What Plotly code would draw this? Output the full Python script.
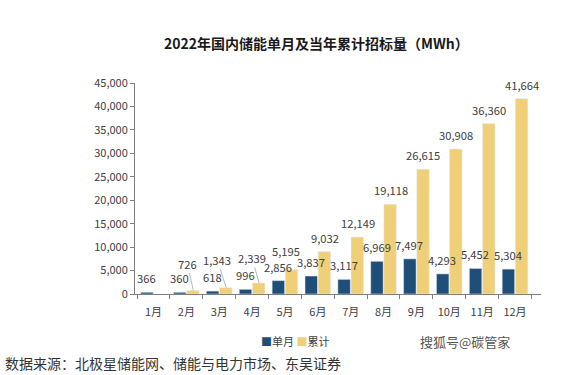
import plotly.graph_objects as go

months = ["1月", "2月", "3月", "4月", "5月", "6月", "7月", "8月", "9月", "10月", "11月", "12月"]
monthly = [366, 360, 618, 996, 2856, 3837, 3117, 6969, 7497, 4293, 5452, 5304]
cumulative = [None, 726, 1343, 2339, 5195, 9032, 12149, 19118, 26615, 30908, 36360, 41664]

BLUE = "#1f4e79"
YELLOW = "#f0cf79"
TXT = "#404040"
FONT = "Noto Sans CJK SC, Noto Sans, sans-serif"

W, H = 570, 375
L, R, T, B = 135, 29, 83, 81
pw, ph = W - L - R, H - T - B


def px_to_paper(px, py):
    return (px - L) / pw, 1 - (py - T) / ph


fig = go.Figure()
fig.add_trace(go.Bar(x=months, y=monthly, name="单月", marker_color=BLUE, showlegend=False))
fig.add_trace(go.Bar(x=months, y=cumulative, name="累计", marker_color=YELLOW, showlegend=False))

# label offsets (pixels) for labels drawn with leader lines / shifted
leader = {1: (-6, -27), 2: (-9, -28), 3: (-7, -25)}
shifted = {4: (-6, 19)}
lab_font = dict(size=11.2, color=TXT, family=FONT)

ann = []
for i, m in enumerate(months):
    ann.append(dict(x=m, y=monthly[i], xref="x", yref="y", text=f"{monthly[i]:,}",
                    showarrow=False, xshift=-7, yshift=4, xanchor="center", yanchor="bottom",
                    font=lab_font))
    v = cumulative[i]
    if v is None:
        continue
    if i in leader:
        ax, ay = leader[i]
        ann.append(dict(x=m, y=v, xref="x", yref="y", text=f"{v:,}", showarrow=True,
                        arrowhead=0, arrowwidth=0.8, arrowcolor="#a6a6a6", standoff=0,
                        ax=ax, ay=ay, xshift=7, font=lab_font))
    elif i in shifted:
        dx, dy = shifted[i]
        ann.append(dict(x=m, y=v, xref="x", yref="y", text=f"{v:,}", showarrow=False,
                        xshift=7 + dx, yshift=dy, xanchor="center", yanchor="middle",
                        font=lab_font))
    else:
        ann.append(dict(x=m, y=v, xref="x", yref="y", text=f"{v:,}",
                        showarrow=False, xshift=7, yshift=4, xanchor="center", yanchor="bottom",
                        font=lab_font))

tx, ty = px_to_paper(316, 43)
ann.append(dict(x=tx, y=ty, xref="paper", yref="paper", showarrow=False,
                xanchor="center", yanchor="middle",
                text="<b>2022年国内储能单月及当年累计招标量（MWh）</b>",
                font=dict(size=14, color="#1a1a1a", family=FONT)))
sx, sy = px_to_paper(3, 363)
ann.append(dict(x=sx, y=sy, xref="paper", yref="paper", showarrow=False,
                xanchor="left", yanchor="middle",
                text="数据来源：北极星储能网、储能与电力市场、东吴证券",
                font=dict(size=14, color="#333333", family=FONT)))
wx, wy = px_to_paper(465, 341)
ann.append(dict(x=wx, y=wy, xref="paper", yref="paper", showarrow=False,
                xanchor="center", yanchor="middle",
                text="搜狐号@碳管家", font=dict(size=13, color="#555555", family=FONT)))
lx, ly = px_to_paper(295, 341)
ann.append(dict(x=lx, y=ly, xref="paper", yref="paper", showarrow=False,
                xanchor="center", yanchor="middle",
                text=f"<span style='color:{BLUE}'>■</span>单月 <span style='color:{YELLOW}'>■</span>累计",
                font=dict(size=11, color=TXT, family=FONT)))

fig.update_layout(
    width=W, height=H,
    margin=dict(l=L, r=R, t=T, b=B),
    paper_bgcolor="white", plot_bgcolor="white",
    font=dict(family=FONT, size=11, color=TXT),
    barmode="group", bargap=0.2, bargroupgap=0.05,
    showlegend=False,
    annotations=ann,
)
fig.update_xaxes(showline=True, linecolor="#7f7f7f", linewidth=1, ticks="outside",
                 tickson="boundaries", ticklen=4, tickcolor="#7f7f7f",
                 ticklabelstandoff=8,
                 tickfont=dict(size=11, color=TXT), showgrid=False)
fig.update_yaxes(range=[0, 45000], dtick=5000, tickformat=",d", showline=True,
                 linecolor="#7f7f7f", linewidth=1, ticks="outside", ticklen=4,
                 tickcolor="#7f7f7f", showgrid=False, zeroline=False,
                 tickfont=dict(size=11, color=TXT))

fig.write_html("out.html", config={"displayModeBar": False},
               post_script="document.body.style.margin='0';")
